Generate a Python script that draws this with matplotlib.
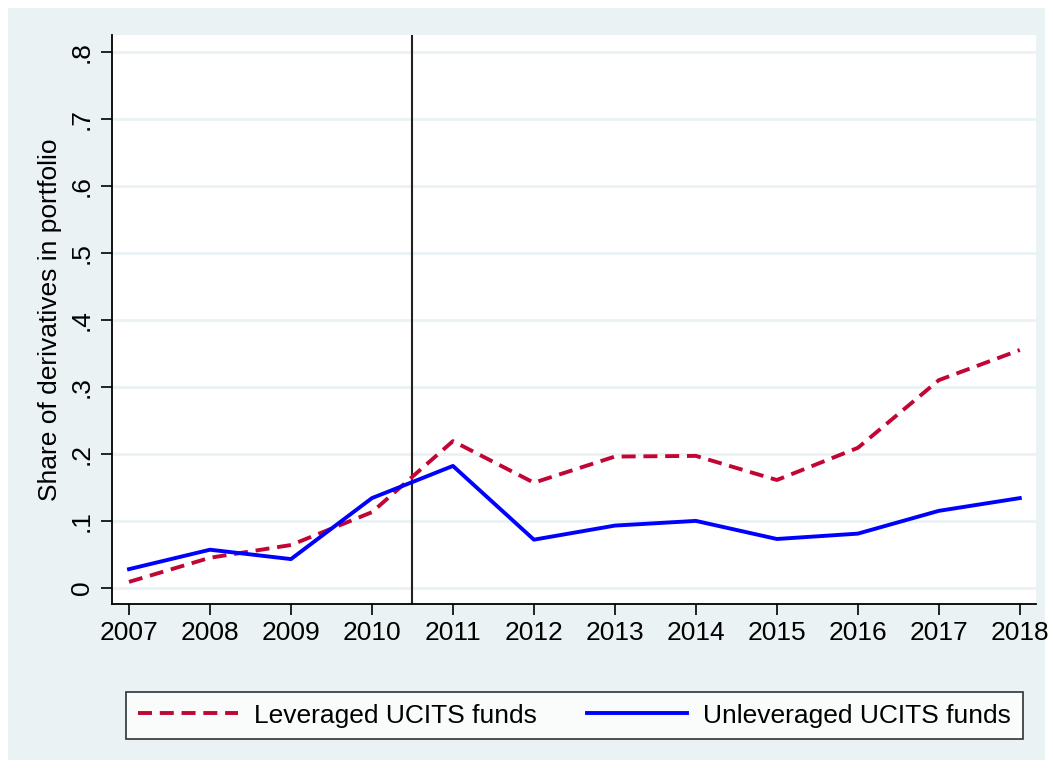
import matplotlib
matplotlib.use("Agg")
import matplotlib.pyplot as plt
from matplotlib.patches import Rectangle

years = [2007, 2008, 2009, 2010, 2011, 2012, 2013, 2014, 2015, 2016, 2017, 2018]
leveraged = [0.009, 0.045, 0.064, 0.113, 0.219, 0.157, 0.196, 0.197, 0.161, 0.209, 0.310, 0.355]
unleveraged = [0.028, 0.057, 0.043, 0.134, 0.182, 0.072, 0.093, 0.100, 0.073, 0.081, 0.115, 0.134]
yticks = [0, 0.1, 0.2, 0.3, 0.4, 0.5, 0.6, 0.7, 0.8]
ytick_labels = ["0", ".1", ".2", ".3", ".4", ".5", ".6", ".7", ".8"]
vline_x = 2010.5

plt.rcParams['font.family'] = ['Liberation Sans', 'DejaVu Sans']
W, H = 1053, 768
FS = 19
fig = plt.figure(figsize=(W/100, H/100), dpi=100)
fig.patch.set_facecolor('white')
fig.patches.append(Rectangle((8/W, 8/H), 1-16/W, 1-16/H, transform=fig.transFigure,
                             facecolor='#eaf2f3', edgecolor='none', zorder=-10))

ax = fig.add_axes([112/W, 1-604/H, (1036-112)/W, (604-35)/H])
ax.set_facecolor('white')
ax.plot(years, leveraged, color='#c10534', lw=2.8, ls=(0, (3.6, 2.0)), label='Leveraged UCITS funds', zorder=3)
ax.plot(years, unleveraged, color='#0000ff', lw=2.8, label='Unleveraged UCITS funds', zorder=3)
ax.axvline(vline_x, color='#222222', lw=1.5, zorder=2)

ax.set_xlim(2006.79, 2018.2)
ax.set_ylim(-0.024, 0.825)
ax.set_yticks(yticks)
ax.set_yticklabels(ytick_labels, rotation=90, va='center')
ax.set_xticks(years)
ax.set_xticklabels([str(y) for y in years])
ax.tick_params(labelsize=FS, length=8, width=1.2, color='black')
ax.tick_params(axis='y', pad=5)
ax.tick_params(axis='x', pad=4)
ax.grid(axis='y', color='#eaf2f3', lw=2)
ax.set_axisbelow(True)
for s in ['top', 'right']:
    ax.spines[s].set_visible(False)
for s in ['left', 'bottom']:
    ax.spines[s].set_linewidth(1.3)
ax.set_ylabel('Share of derivatives in portfolio', fontsize=FS, labelpad=6)

leg = fig.legend(loc='center', bbox_to_anchor=(574.5/W, 1-715.5/H), ncol=2, fontsize=FS,
                 frameon=True, fancybox=False, edgecolor='black', facecolor='white',
                 handlelength=3.8, columnspacing=1.9, borderpad=0.45, handletextpad=0.6)
leg.get_frame().set_linewidth(1.2)

fig.savefig('out.png', dpi=100, facecolor=fig.get_facecolor())
